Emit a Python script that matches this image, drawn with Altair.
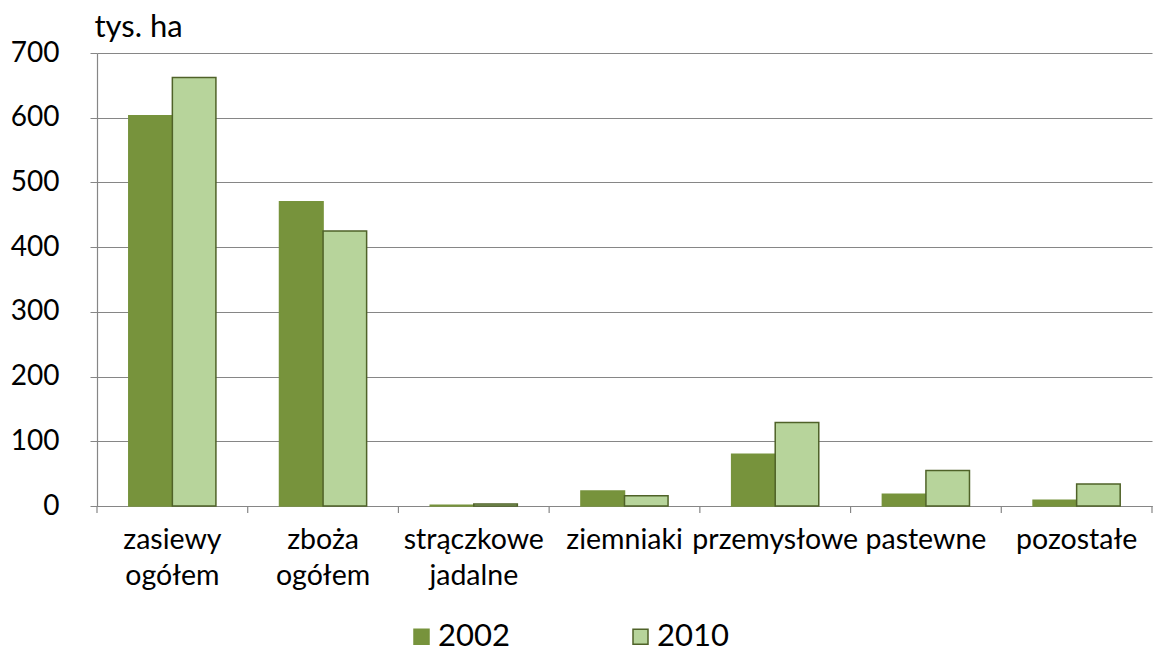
import altair as alt
import pandas as pd

categories = ["zasiewy|ogółem", "zboża|ogółem", "strączkowe|jadalne", "ziemniaki",
              "przemysłowe", "pastewne", "pozostałe"]
years = ["2002", "2010"]
values_2002 = [603, 470, 1, 23, 80, 18, 9]
values_2010 = [662, 425, 3, 16, 129, 55, 34]
y_ticks = [0, 100, 200, 300, 400, 500, 600, 700]

rows = []
for c, a, b in zip(categories, values_2002, values_2010):
    rows.append({"kat": c, "rok": "2002", "v": a})
    rows.append({"kat": c, "rok": "2010", "v": b})
df = pd.DataFrame(rows)
df_cat = pd.DataFrame({"kat": categories})

W, H = 1055, 453
FONT = "Lato"

xscale = alt.Scale(paddingInner=0, paddingOuter=0)

bars = alt.Chart(df).mark_bar(strokeWidth=1.5).encode(
    x=alt.X("kat:N", sort=categories, scale=xscale,
            axis=alt.Axis(title=None, labelAngle=0, ticks=False, domain=True,
                          domainColor="#868686", domainWidth=1.2,
                          labelExpr="split(datum.label, '|')",
                          labelFont=FONT, labelFontSize=28.5, labelColor="#000000",
                          labelPadding=19, labelLineHeight=36, labelLimit=300)),
    xOffset=alt.XOffset("rok:N", scale=alt.Scale(paddingInner=0, paddingOuter=0.73)),
    y=alt.Y("v:Q", scale=alt.Scale(domain=[0, 700], nice=False),
            axis=alt.Axis(values=y_ticks, title="tys. ha", titleAngle=0,
                          titleAlign="left", titleBaseline="alphabetic",
                          titleX=-3, titleY=-17, titleFont=FONT, titleFontSize=31,
                          titleFontWeight="normal", titleColor="#000000",
                          labelFont=FONT, labelFontSize=28, labelColor="#000000",
                          labelPadding=31, tickSize=7, tickColor="#868686",
                          domainColor="#868686", domainWidth=1.2,
                          gridColor="#868686", gridWidth=1.2)),
    fill=alt.Fill("rok:N", scale=alt.Scale(domain=years, range=["#77933C", "#B7D49B"]),
                  legend=alt.Legend(title=None, orient="none", legendX=309, legendY=568,
                                    direction="horizontal", columns=2, columnPadding=115,
                                    symbolType="square", symbolSize=225,
                                    symbolStrokeWidth=1.5, labelOffset=1,
                                    labelFont=FONT, labelFontSize=31, labelColor="#000000")),
    stroke=alt.Stroke("rok:N", scale=alt.Scale(domain=years, range=["#77933C", "#4F6228"]),
                      legend=None),
)

cat_ticks = alt.Chart(df_cat).mark_rule(color="#868686", strokeWidth=1.2).encode(
    x=alt.X("kat:N", sort=categories, scale=xscale, bandPosition=0),
    y=alt.value(H), y2=alt.value(H + 7),
)
end_tick = alt.Chart(pd.DataFrame({"a": [0]})).mark_rule(color="#868686", strokeWidth=1.2).encode(
    x=alt.value(W), y=alt.value(H), y2=alt.value(H + 7),
)

chart = alt.layer(bars, cat_ticks, end_tick).properties(
    width=W, height=H,
    autosize=alt.AutoSizeParams(type="none"),
    padding={"left": 89, "top": 45, "right": 6, "bottom": 140},
).configure_view(stroke=None).configure_axis(grid=True).configure_axisX(grid=False)

chart.save("out.html", embed_options={"renderer": "svg", "actions": False})
